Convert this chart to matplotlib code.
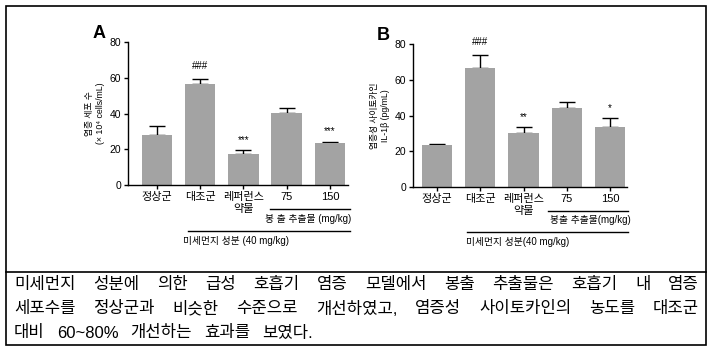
import matplotlib
matplotlib.use("Agg")
import matplotlib.pyplot as plt
from matplotlib.patches import Rectangle
from matplotlib.lines import Line2D

plt.rcParams['font.family'] = ['Liberation Sans', 'Noto Sans CJK KR', 'DejaVu Sans']

# ========================================================================
#                           Data
# ========================================================================
groups = ["정상군", "대조군", "레퍼런스\n약물", "75", "150"]

cells_mean = [28, 56.5, 17.5, 40.5, 23.5]
cells_err = [5, 3, 2, 2.5, 0.8]
cells_marks = ["", "###", "***", "", "***"]

il1b_mean = [23.5, 66.5, 30, 44, 33.5]
il1b_err = [0.3, 7.5, 3.5, 3.5, 5]
il1b_marks = ["", "###", "**", "", "*"]

caption = [
    "미세먼지 성분에 의한 급성 호흡기 염증 모델에서 봉출 추출물은 호흡기 내 염증",
    "세포수를 정상군과 비슷한 수준으로 개선하였고, 염증성 사이토카인의 농도를 대조군",
    "대비 60~80% 개선하는 효과를 보였다.",
]

W, H = 713, 354
fig = plt.figure(figsize=(W / 100, H / 100), dpi=100)


def px_rect(l, t, r, b):
    return [l / W, 1 - b / H, (r - l) / W, (b - t) / H]


def draw_panel(ax, means, errs, marks, xlim, ylabel, letter, lines):
    x = range(len(means))
    ax.bar(x, means, width=0.7, color="#a3a3a3", zorder=2)
    ax.errorbar(x, means, yerr=[[0] * len(errs), errs], fmt="none",
                ecolor="black", elinewidth=1, capsize=6, capthick=1, zorder=1)
    for i, m in enumerate(marks):
        if m:
            off = 4.5 if m.startswith("#") else 2.8
            ax.text(i, means[i] + errs[i] + off, m, ha="center", va="bottom", fontsize=7)
    ax.set_xlim(*xlim)
    ax.set_ylim(0, 80)
    ax.set_yticks([0, 20, 40, 60, 80])
    ax.set_xticks(list(x))
    ax.set_xticklabels(groups, fontsize=8, linespacing=1.2)
    ax.tick_params(axis="y", labelsize=7.5, length=3, width=1, pad=2)
    ax.tick_params(axis="x", length=3, width=1, pad=2)
    for s in ["top", "right"]:
        ax.spines[s].set_visible(False)
    for s in ["left", "bottom"]:
        ax.spines[s].set_linewidth(1)
    ax.set_ylabel(ylabel, fontsize=6.3, linespacing=1.3, labelpad=3)
    ax.text(letter[1], 1.06, letter[0], transform=ax.transAxes,
            fontsize=13, fontweight="bold", ha="center", va="center")
    tr = ax.get_xaxis_transform()
    for x0, x1, yl, txt, tx, ty, ha in lines:
        ax.add_line(Line2D([x0, x1], [yl, yl], color="black", lw=1,
                           transform=tr, clip_on=False))
        ax.text(tx, ty, txt, transform=tr, fontsize=7, ha=ha, va="center")


axA = fig.add_axes(px_rect(128, 42, 348, 185))
draw_panel(axA, cells_mean, cells_err, cells_marks, (-0.67, 4.42),
           "염증 세포 수\n(× 10⁴ cells/mL)", ("A", -0.13),
           [(2.61, 4.46, -0.168, "봉 출 추출물 (mg/kg)", 3.49, -0.238, "center"),
            (0.72, 4.46, -0.322, "미세먼지 성분 (40 mg/kg)", 0.6, -0.392, "left")])

axB = fig.add_axes(px_rect(413, 44, 627, 187))
draw_panel(axB, il1b_mean, il1b_err, il1b_marks, (-0.555, 4.39),
           "염증성 사이토카인\nIL-1β (pg/mL)", ("B", -0.14),
           [(2.57, 4.42, -0.168, "봉출 추출물(mg/kg)", 3.54, -0.23, "center"),
            (0.69, 4.42, -0.315, "미세먼지 성분(40 mg/kg)", 1.87, -0.385, "center")])

# outer frame and caption box
fig.add_artist(Rectangle((6 / W, 1 - 345 / H), 700 / W, 339 / H, fill=False,
                         lw=1.2, ec="black", transform=fig.transFigure))
fig.add_artist(Line2D([6 / W, 706 / W], [1 - 272 / H, 1 - 272 / H], lw=1.2,
                      color="black", transform=fig.transFigure))

# justified caption text
renderer = fig.canvas.get_renderer()
x_left, x_right = 14, 699
line_y = [285, 309, 333]
cap_font = dict(fontsize=12, va="center")
for li, line in enumerate(caption):
    y = 1 - line_y[li] / H
    words = line.split(" ")
    texts = [fig.text(0, y, w, ha="left", **cap_font) for w in words]
    widths = [t.get_window_extent(renderer).width for t in texts]
    if li == len(caption) - 1:
        gap = 12
    else:
        gap = (x_right - x_left - sum(widths)) / (len(words) - 1)
    cur = x_left
    for t, w in zip(texts, widths):
        t.set_x(cur / W)
        cur += w + gap

fig.savefig("out.png", dpi=100)
